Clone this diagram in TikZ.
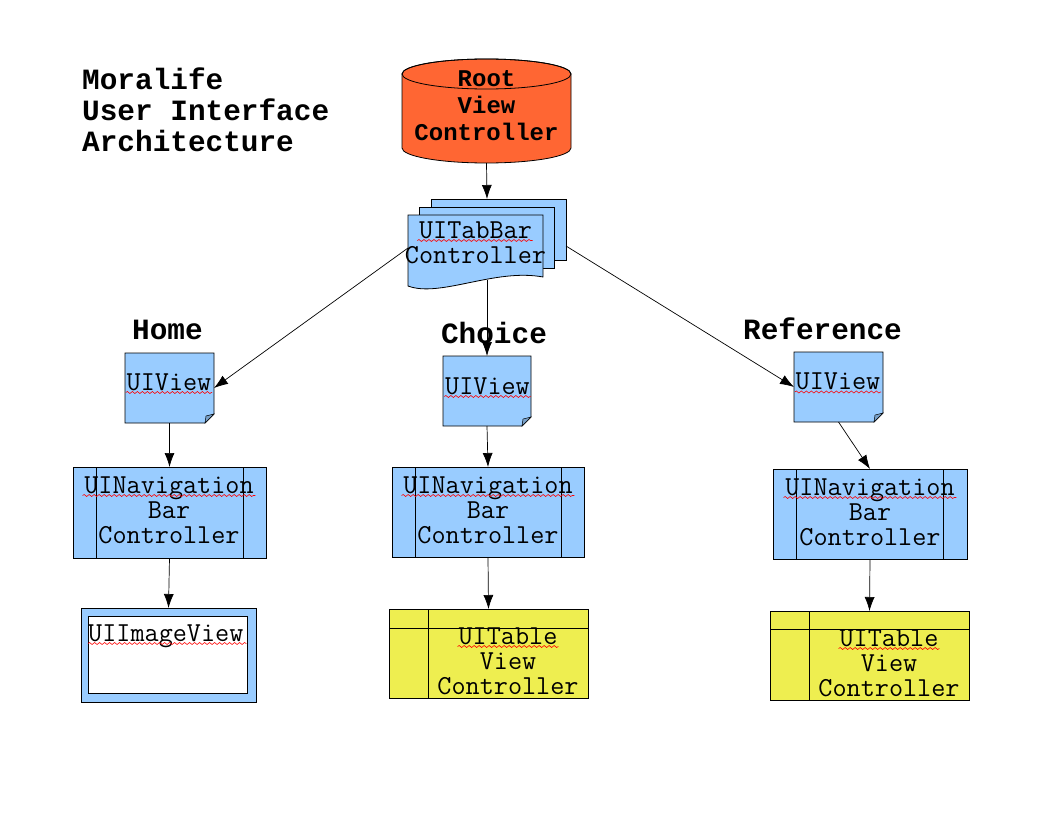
\documentclass[tikz,border=0pt]{standalone}
\usepackage{fontspec}
\newfontfamily\cour{Liberation Mono}
\usetikzlibrary{arrows.meta,decorations.pathmorphing}
\definecolor{cblue}{RGB}{153,204,255}
\definecolor{cflap}{RGB}{120,160,200}
\definecolor{cyellow}{RGB}{238,238,80}
\definecolor{corange}{RGB}{255,102,51}
\tikzset{
  frame/.style={draw=none, inner sep=0pt, outer sep=0pt},
  boxline/.style={draw=black, line width=0.8pt},
  txt/.style={font=\ttfamily\fontsize{27.4pt}{25pt}\selectfont, align=center, inner sep=0pt},
  roottxt/.style={font=\cour\bfseries\fontsize{24pt}{27pt}\selectfont, align=center, inner sep=0pt},
  headtxt/.style={font=\cour\bfseries\fontsize{29.4pt}{31pt}\selectfont, inner sep=0pt},
  squig/.style={draw=red, line width=0.6pt, decorate, decoration={snake, amplitude=1pt, segment length=5pt}},
  arr/.style={-{Latex[length=14pt,width=10pt]}, line width=0.7pt, draw=black},
}
\begin{document}
\begin{tikzpicture}[x=1pt,y=-1pt]
\useasboundingbox (0,0) rectangle (1056,816);
\fill[white] (0,0) rectangle (1056,816);

% ---- frame nodes (used for connectors)
\node[frame, minimum width=169pt, minimum height=104pt] (root) at (486.5,111) {};
\node[frame, minimum width=158pt, minimum height=81pt] (tabbar) at (487,239.5) {};
\node[frame, minimum width=89pt, minimum height=70pt] (homeview) at (169.5,388) {};
\node[frame, minimum width=88pt, minimum height=70pt] (choiceview) at (487,391) {};
\node[frame, minimum width=89pt, minimum height=70pt] (refview) at (838.5,387) {};
\node[frame, minimum width=193pt, minimum height=91pt] (homenav) at (169.5,512.5) {};
\node[frame, minimum width=192pt, minimum height=90pt] (choicenav) at (488,512) {};
\node[frame, minimum width=194pt, minimum height=90pt] (refnav) at (870,514) {};
\node[frame, minimum width=175pt, minimum height=94pt] (homeimg) at (168.5,655) {};
\node[frame, minimum width=199pt, minimum height=89pt] (choicetab) at (488.5,653.5) {};
\node[frame, minimum width=199pt, minimum height=89pt] (reftab) at (869.5,655.5) {};

% ---- cylinder
\filldraw[boxline, fill=corange] (402,148) arc[start angle=180,end angle=360,x radius=84.5pt,y radius=15pt]
  -- (571,74) arc[start angle=0,end angle=180,x radius=84.5pt,y radius=15pt] -- cycle;
\draw[boxline] (486.5,74) ellipse [x radius=84.5pt,y radius=15pt];

% ---- multi-document
\filldraw[boxline, fill=cblue] (431,199) rectangle (566,260);
\filldraw[boxline, fill=cblue] (419,207) rectangle (554,268);
\filldraw[boxline, fill=cblue] (408,215) -- (543,215) -- (543,277)
  .. controls (495,268) and (440,298) .. (408,286) -- cycle;

% ---- notes (UIView)
\foreach \l/\t/\r/\b in {125/353/214/423, 443/356/531/426, 794/352/883/422}{
  \filldraw[boxline, fill=cblue] (\l,\t) -- (\r,\t) -- (\r,\b-9) -- (\r-9,\b) -- (\l,\b) -- cycle;
  \filldraw[boxline, line width=0.5pt, fill=cflap] (\r,\b-9) -- (\r-8,\b-7) -- (\r-9,\b) -- cycle;
}

% ---- navigation (predefined process)
\foreach \l/\t/\r/\b/\a/\c in {73/467/266/558/96/243, 392/467/584/557/415/561, 773/469/967/559/796/943}{
  \filldraw[boxline, fill=cblue] (\l,\t) rectangle (\r,\b);
  \draw[boxline] (\a,\t) -- (\a,\b);
  \draw[boxline] (\c,\t) -- (\c,\b);
}

% ---- image view
\filldraw[boxline, fill=cblue] (81,608) rectangle (256,702);
\filldraw[boxline, fill=white] (88,616) rectangle (247,693);

% ---- table views (internal storage)
\foreach \l/\t/\r/\b/\h/\v in {389/609/588/698/628/428, 770/611/969/700/629/809}{
  \filldraw[boxline, fill=cyellow] (\l,\t) rectangle (\r,\b);
  \draw[boxline] (\l,\h) -- (\r,\h);
  \draw[boxline] (\v,\t) -- (\v,\b);
}

% ---- texts
\node[headtxt, align=left, anchor=west] (title) at (82,110) {Moralife\\User Interface\\Architecture};
\node[headtxt, anchor=base] (homelabel) at (167.5,339) {Home};
\node[headtxt, anchor=base] (choicelabel) at (494,343) {Choice};
\node[headtxt, anchor=base] (reflabel) at (822.5,339) {Reference};

\node[roottxt] (roottext) at (486.5,105.5) {Root\\View\\Controller};
\node[txt] (tabtext) at (475.5,243) {UITabBar\\Controller};
\node[txt, anchor=base] (homeviewtext) at (169,390) {UIView};
\node[txt, anchor=base] (choiceviewtext) at (487.5,394) {UIView};
\node[txt, anchor=base] (refviewtext) at (838,389.5) {UIView};
\node[txt] (homenavtext) at (169,510.5) {UINavigation\\Bar\\Controller};
\node[txt] (choicenavtext) at (488,510.5) {UINavigation\\Bar\\Controller};
\node[txt] (refnavtext) at (870,512.5) {UINavigation\\Bar\\Controller};
\node[txt, anchor=base west] (homeimgtext) at (88,641) {UIImageView};
\node[txt] (choicetabtext) at (508,661.5) {UITable\\View\\Controller};
\node[txt] (reftabtext) at (889,663.5) {UITable\\View\\Controller};

% ---- spell-check squiggles
\draw[squig] (417.4,240.5) -- (532.6,240.5);
\draw[squig] (125.8,392.5) -- (212.2,392.5);
\draw[squig] (444.3,396.5) -- (530.7,396.5);
\draw[squig] (794.8,392) -- (881.2,392);
\draw[squig] (82.6,495.5) -- (255.4,495.5);
\draw[squig] (401.6,495.5) -- (574.4,495.5);
\draw[squig] (783.6,497.5) -- (956.4,497.5);
\draw[squig] (88,643.5) -- (246.4,643.5);
\draw[squig] (457.6,646.5) -- (558.4,646.5);
\draw[squig] (838.6,648.5) -- (939.4,648.5);

% ---- connectors
\draw[arr] (root.south) -- (tabbar.north);
\draw[arr] ([yshift=-8.5pt]tabbar.west) -- (homeview.east);
\draw[arr] (tabbar.south) -- (choiceview.north);
\draw[arr] ([yshift=-6.5pt]tabbar.east) -- (refview.west);
\draw[arr] (homeview.south) -- (homenav.north);
\draw[arr] (choiceview.south) -- (choicenav.north);
\draw[arr] (refview.south) -- (refnav.north);
\draw[arr] (homenav.south) -- (homeimg.north);
\draw[arr] (choicenav.south) -- (choicetab.north);
\draw[arr] (refnav.south) -- (reftab.north);
\end{tikzpicture}
\end{document}
